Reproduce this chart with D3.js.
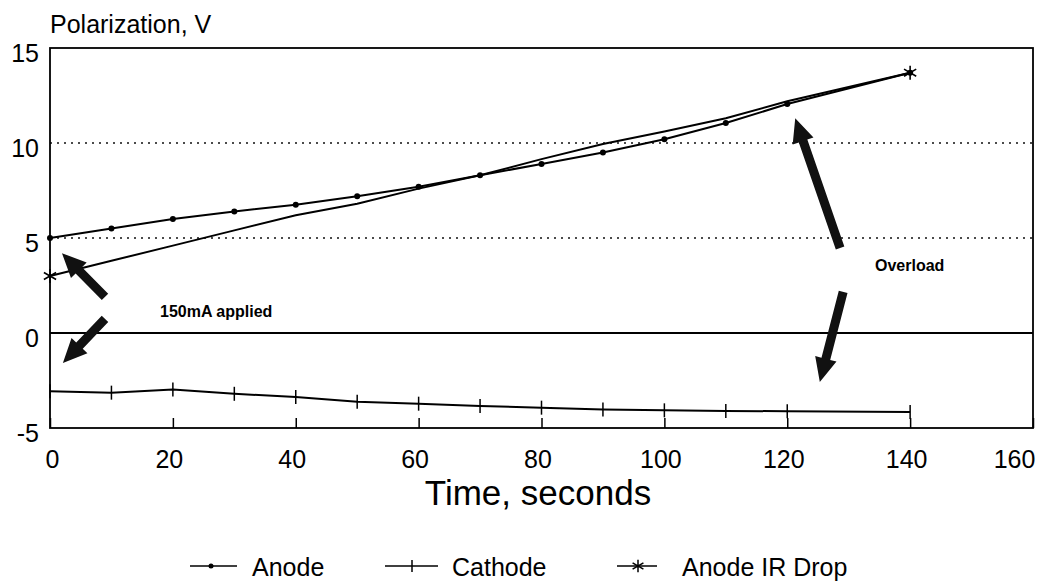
<!DOCTYPE html>
<html>
<head>
<meta charset="utf-8">
<script src="https://cdn.jsdelivr.net/npm/d3@7"></script>
<style>
    body { margin: 0; background: #fff; }
    svg { font-family: "Liberation Sans", Arial, Helvetica, sans-serif; }
</style>
</head>
<body>
<script>
// time values (seconds) shared by the three series
var times = [0, 10, 20, 30, 40, 50, 60, 70, 80, 90, 100, 110, 120, 140]
var anode = [5.0, 5.5, 6.0, 6.4, 6.75, 7.2, 7.7, 8.3, 8.9, 9.5, 10.2, 11.05, 12.05, 13.7]
var cathode = [-3.07, -3.14, -2.98, -3.2, -3.37, -3.62, -3.72, -3.84, -3.93, -4.02, -4.07, -4.1, -4.12, -4.16]
var anodeIR = [3.0, 3.8, 4.6, 5.4, 6.2, 6.8, 7.6, 8.3, 9.15, 9.95, 10.6, 11.3, 12.2, 13.7]

var xTicks = [0, 20, 40, 60, 80, 100, 120, 140, 160]
var yTicks = [-5, 0, 5, 10, 15]
var gridValues = [5, 10]
var seriesNames = ['Anode', 'Cathode', 'Anode IR Drop']

// annotation arrows in data units: [tailX, tailY, tipX, tipY]
var arrows150 = [[8.95, 1.9, 1.95, 4.2], [8.95, 0.74, 2.1, -1.58]]
var arrowsOverload = [[128.6, 4.47, 121.3, 11.3], [129.1, 2.16, 125.3, -2.58]]

function main() {
    var svgWidth = 1060, svgHeight = 584
    var svg = d3.select('body').append('svg')
        .attr('width', svgWidth)
        .attr('height', svgHeight)

    var xScale = d3.scaleLinear().domain([0, 160]).range([50, 1033])
    var yScale = d3.scaleLinear().domain([-5, 15]).range([428, 48])

    // dotted gridlines at 5 and 10
    svg.selectAll('.grid')
        .data(gridValues)
        .enter().append('line')
        .attr('class', 'grid')
        .attr('x1', xScale(0)).attr('x2', xScale(160))
        .attr('y1', function(d) { return yScale(d) })
        .attr('y2', function(d) { return yScale(d) })
        .attr('stroke', '#111').attr('stroke-width', 1.5)
        .attr('stroke-dasharray', '2,5')

    // zero line
    svg.append('line')
        .attr('x1', xScale(0)).attr('x2', xScale(160))
        .attr('y1', yScale(0)).attr('y2', yScale(0))
        .attr('stroke', '#000').attr('stroke-width', 1.8)

    // frame
    svg.append('rect')
        .attr('x', xScale(0)).attr('y', yScale(15))
        .attr('width', xScale(160) - xScale(0))
        .attr('height', yScale(-5) - yScale(15))
        .attr('fill', 'none').attr('stroke', '#000').attr('stroke-width', 1.8)

    // x axis: ticks pointing up into the plot
    var xAxis = svg.append('g')
        .attr('transform', 'translate(0,' + yScale(-5) + ')')
        .call(d3.axisBottom(xScale).tickValues(xTicks).tickSizeInner(-10).tickSizeOuter(0))
    xAxis.select('.domain').remove()
    xAxis.selectAll('line').attr('stroke', '#000').attr('stroke-width', 1.5)
    xAxis.selectAll('text')
        .attr('y', 40).attr('dy', 0)
        .attr('x', function(d) { return d === 0 ? 2 : (d === 160 ? -19 : -4) })
        .attr('font-size', '25px').attr('fill', '#000')
        .attr('font-family', '"Liberation Sans", Arial, sans-serif')

    // y axis labels (plain hyphen for negatives, as in the original)
    var yAxis = svg.append('g')
        .attr('transform', 'translate(' + xScale(0) + ',0)')
        .call(d3.axisLeft(yScale).tickValues(yTicks).tickSize(0).tickPadding(11)
            .tickFormat(function(d) { return String(d) }))
    yAxis.select('.domain').remove()
    yAxis.selectAll('text')
        .attr('dy', 13)
        .attr('font-size', '25px').attr('fill', '#000')
        .attr('font-family', '"Liberation Sans", Arial, sans-serif')

    // titles
    svg.append('text')
        .attr('x', 50).attr('y', 33)
        .attr('font-size', '25px')
        .text('Polarization, V')
    svg.append('text')
        .attr('x', 538).attr('y', 505)
        .attr('text-anchor', 'middle')
        .attr('font-size', '35px')
        .text('Time, seconds')

    var line = d3.line()
        .x(function(d) { return xScale(d[0]) })
        .y(function(d) { return yScale(d[1]) })

    var anodeData = times.map(function(t, i) { return [t, anode[i]] })
    var cathodeData = times.map(function(t, i) { return [t, cathode[i]] })
    var irData = times.map(function(t, i) { return [t, anodeIR[i]] })

    ;[anodeData, cathodeData, irData].forEach(function(data) {
        svg.append('path')
            .datum(data)
            .attr('d', line)
            .attr('fill', 'none')
            .attr('stroke', '#000')
            .attr('stroke-width', 2)
    })

    // anode dots
    svg.selectAll('.anodeDot')
        .data(anodeData)
        .enter().append('circle')
        .attr('class', 'anodeDot')
        .attr('cx', function(d) { return xScale(d[0]) })
        .attr('cy', function(d) { return yScale(d[1]) })
        .attr('r', 3)
        .attr('fill', '#000')

    // cathode tick markers
    svg.selectAll('.cathodeTick')
        .data(cathodeData)
        .enter().append('line')
        .attr('class', 'cathodeTick')
        .attr('x1', function(d) { return xScale(d[0]) })
        .attr('x2', function(d) { return xScale(d[0]) })
        .attr('y1', function(d) { return yScale(d[1]) - 7 })
        .attr('y2', function(d) { return yScale(d[1]) + 7 })
        .attr('stroke', '#000').attr('stroke-width', 1.5)

    // IR drop stars only at the ends
    var star = d3.symbol().type(d3.symbolAsterisk).size(140)
    svg.selectAll('.irStar')
        .data([irData[0], irData[irData.length - 1]])
        .enter().append('path')
        .attr('class', 'irStar')
        .attr('d', star)
        .attr('transform', function(d) { return 'translate(' + xScale(d[0]) + ',' + yScale(d[1]) + ')' })
        .attr('fill', 'none').attr('stroke', '#000').attr('stroke-width', 1.6)

    // thick arrows
    function arrowPath(a) {
        var x0 = xScale(a[0]), y0 = yScale(a[1]), x1 = xScale(a[2]), y1 = yScale(a[3])
        var dx = x1 - x0, dy = y1 - y0
        var len = Math.sqrt(dx * dx + dy * dy)
        var ux = dx / len, uy = dy / len, nx = -uy, ny = ux
        var hl = 24, hw = 11, sw = 4.5
        var bx = x1 - ux * hl, by = y1 - uy * hl
        var pts = [
            [x0 + nx * sw, y0 + ny * sw],
            [bx + nx * sw, by + ny * sw],
            [bx + nx * hw, by + ny * hw],
            [x1, y1],
            [bx - nx * hw, by - ny * hw],
            [bx - nx * sw, by - ny * sw],
            [x0 - nx * sw, y0 - ny * sw]
        ]
        return 'M' + pts.map(function(p) { return p[0] + ',' + p[1] }).join('L') + 'Z'
    }
    svg.selectAll('.arrow')
        .data(arrows150.concat(arrowsOverload))
        .enter().append('path')
        .attr('class', 'arrow')
        .attr('d', arrowPath)
        .attr('fill', '#111')

    svg.append('text')
        .attr('x', 160).attr('y', 317)
        .attr('font-size', '16px').attr('font-weight', 'bold')
        .text('150mA applied')
    svg.append('text')
        .attr('x', 875).attr('y', 271)
        .attr('font-size', '16px').attr('font-weight', 'bold')
        .text('Overload')

    // legend
    var legend = [
        {name: seriesNames[0], x0: 190, x1: 237, mx: 211, text: 252},
        {name: seriesNames[1], x0: 385, x1: 438, mx: 412, text: 452},
        {name: seriesNames[2], x0: 617, x1: 657, mx: 638, text: 682}
    ]
    var legY = 566
    var lg = svg.selectAll('.legend')
        .data(legend)
        .enter().append('g')
        .attr('class', 'legend')
    lg.append('line')
        .attr('x1', function(d) { return d.x0 }).attr('x2', function(d) { return d.x1 })
        .attr('y1', legY).attr('y2', legY)
        .attr('stroke', '#000').attr('stroke-width', 1.5)
    lg.append('text')
        .attr('x', function(d) { return d.text }).attr('y', 576)
        .attr('font-size', '25px')
        .text(function(d) { return d.name })

    svg.append('circle').attr('cx', legend[0].mx).attr('cy', legY).attr('r', 2.5).attr('fill', '#000')
    svg.append('line')
        .attr('x1', legend[1].mx).attr('x2', legend[1].mx)
        .attr('y1', legY - 6).attr('y2', legY + 6)
        .attr('stroke', '#000').attr('stroke-width', 1.5)
    svg.append('path')
        .attr('d', d3.symbol().type(d3.symbolAsterisk).size(110))
        .attr('transform', 'translate(' + legend[2].mx + ',' + legY + ')')
        .attr('fill', 'none').attr('stroke', '#000').attr('stroke-width', 1.5)
}

main()
</script>
</body>
</html>
